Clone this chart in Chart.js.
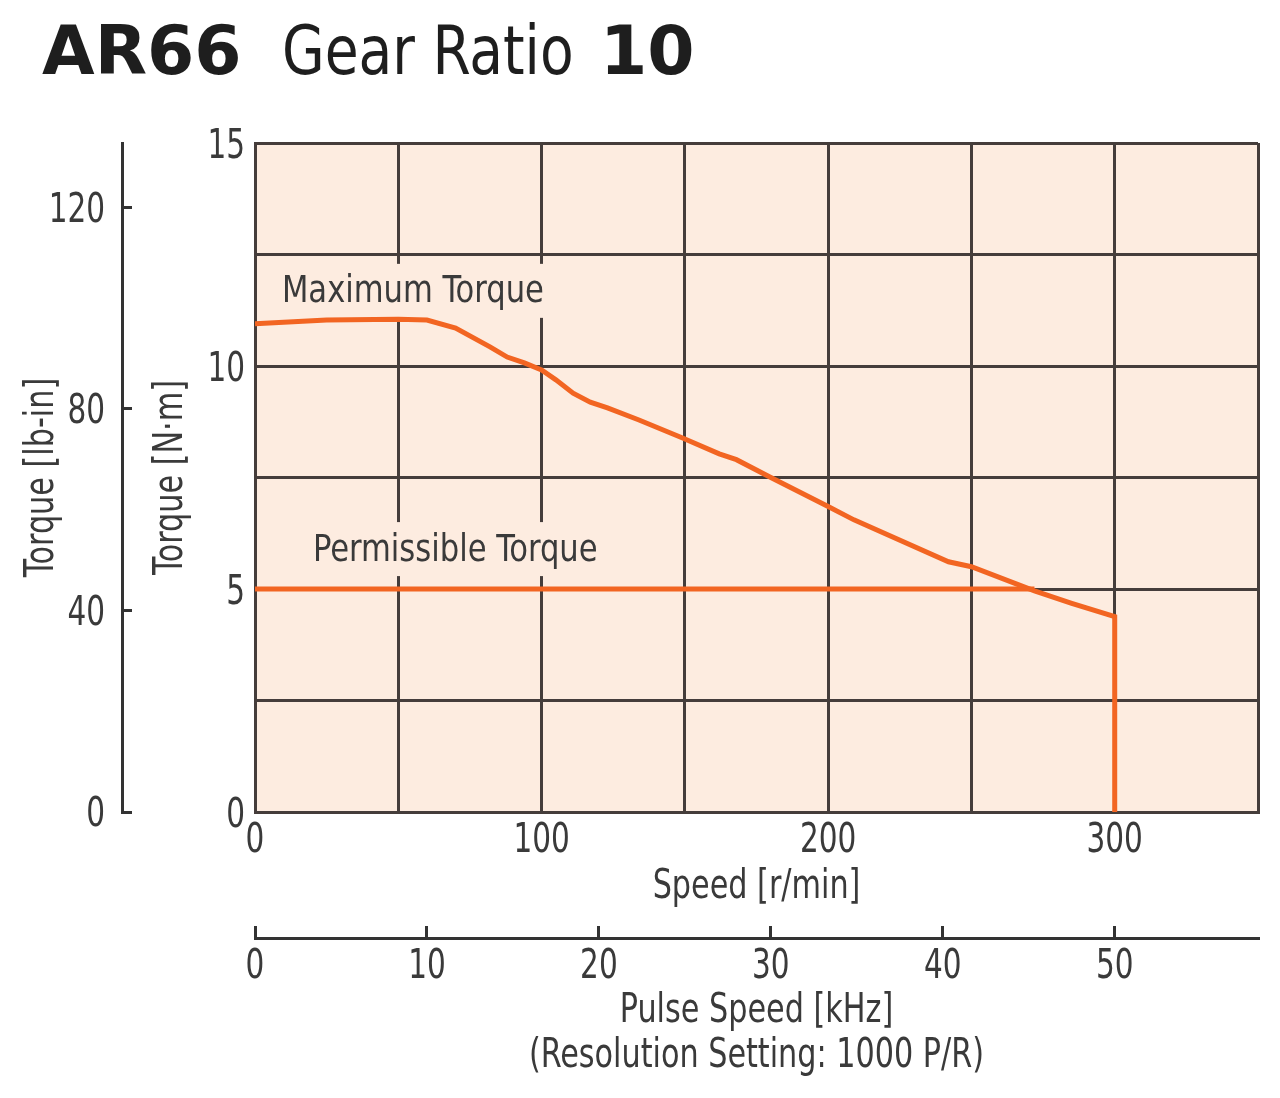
<!DOCTYPE html>
<html>
<head>
<meta charset="utf-8">
<script src="https://cdn.jsdelivr.net/npm/chart.js@4.4.1/dist/chart.umd.min.js"></script>
<style>
  body { margin: 0; background: #fff; }
  #wrap { position: relative; width: 1280px; height: 1098px; }
  #chart { position: absolute; left: 0; top: 0; }
  #title span { position: absolute; top: 6px; white-space: nowrap; color: #1e1e1e; line-height: 90px; }
  #title .b { font-family: 'DejaVu Sans', sans-serif; font-weight: bold; font-size: 68px; }
  #title .n { font-family: 'DejaVu Sans Condensed', 'DejaVu Sans', sans-serif; font-size: 68px;
              transform: scaleX(0.9); transform-origin: left center; }
</style>
</head>
<body>
<div id="wrap">
  <div id="title">
    <span class="b" style="left:42px">AR66</span>
    <span class="n" style="left:282px">Gear Ratio</span>
    <span class="b" style="left:600px">10</span>
  </div>
  <canvas id="chart" width="1280" height="1098"></canvas>
</div>
<script>
// values
const speedMax = [0, 25, 50, 60, 70, 82, 88, 94, 100, 105, 111, 117, 123, 134, 149, 162, 168, 180, 200, 209, 242, 250, 272, 285, 300, 300];
const torqueMax = [10.95, 11.03, 11.05, 11.03, 10.85, 10.43, 10.2, 10.07, 9.91, 9.69, 9.39, 9.19, 9.06, 8.79, 8.39, 8.03, 7.9, 7.5, 6.85, 6.55, 5.61, 5.5, 4.96, 4.68, 4.38, 0];
const speedPerm = [0, 272];
const torquePerm = [5, 5];

const speedRange = [0, 350];     // r/min
const torqueRange = [0, 15];     // N·m
const lbinPerNm = 8.8507;
const kHzPerRpm = 1 / 6;         // gear ratio 10, 1000 P/R

const curveLabels = [
  { text: 'Maximum Torque', speed: 9.4, torque: 11.64 },
  { text: 'Permissible Torque', speed: 20.2, torque: 5.85 }
];

const FONT = "'DejaVu Sans Condensed', 'DejaVu Sans', sans-serif";
const TXT = '#3a3a3a';
const GRID = '#453d3b';
const ORANGE = '#f26522';
const PEACH = '#fdece0';

const toXY = (xs, ys) => xs.map((x, i) => ({ x: x, y: ys[i] }));

// narrow all canvas text so it looks like the condensed face of the original
const squeeze = {
  id: 'squeeze',
  beforeDraw(chart) {
    const ctx = chart.ctx;
    if (ctx._origFillText) return;
    const orig = ctx.fillText.bind(ctx);
    ctx._origFillText = orig;
    ctx.textSqueeze = 0.82;
    ctx.fillText = function (text, x, y) {
      this.save();
      this.translate(x, y);
      this.scale(this.textSqueeze, 1);
      orig(text, 0, 0);
      this.restore();
    };
  }
};

const plotBg = {
  id: 'plotBg',
  beforeDraw(chart) {
    const { ctx, chartArea: a } = chart;
    ctx.save();
    ctx.fillStyle = PEACH;
    ctx.fillRect(a.left, a.top, a.right - a.left, a.bottom - a.top);
    ctx.restore();
  }
};

// curve names sit on a peach box that hides the grid behind them
const curveText = {
  id: 'curveText',
  beforeDatasetsDraw(chart) {
    const { ctx, scales } = chart;
    ctx.save();
    ctx.font = '37px ' + FONT;
    ctx.fillStyle = PEACH;
    curveLabels.forEach(l => {
      const x = scales.x.getPixelForValue(l.speed);
      const y = scales.y.getPixelForValue(l.torque);
      const w = ctx.measureText(l.text).width * 0.92;
      ctx.fillRect(x - 8, y - 29, w + 16, 54);
    });
    ctx.restore();
  },
  afterDatasetsDraw(chart) {
    const { ctx, scales } = chart;
    ctx.save();
    ctx.textSqueeze = 0.92;
    ctx.font = '37px ' + FONT;
    ctx.fillStyle = TXT;
    ctx.textAlign = 'left';
    ctx.textBaseline = 'middle';
    curveLabels.forEach(l => {
      ctx.fillText(l.text, scales.x.getPixelForValue(l.speed), scales.y.getPixelForValue(l.torque));
    });
    ctx.textSqueeze = 0.82;
    ctx.restore();
  }
};

new Chart(document.getElementById('chart'), {
  type: 'line',
  data: {
    datasets: [
      {
        label: 'Maximum Torque',
        data: toXY(speedMax, torqueMax),
        borderColor: ORANGE,
        borderWidth: 5,
        pointRadius: 0,
        tension: 0,
        fill: false
      },
      {
        label: 'Permissible Torque',
        data: toXY(speedPerm, torquePerm),
        borderColor: ORANGE,
        borderWidth: 5,
        pointRadius: 0,
        fill: false
      }
    ]
  },
  options: {
    responsive: false,
    animation: false,
    layout: { padding: { top: 143, right: 22, left: 0, bottom: 0 } },
    plugins: { legend: { display: false }, tooltip: { enabled: false } },
    scales: {
      x: {
        type: 'linear',
        position: 'bottom',
        weight: 0,
        min: speedRange[0],
        max: speedRange[1],
        afterFit: s => { s.height = 126; },
        grid: { color: GRID, lineWidth: 3, drawTicks: false },
        border: { color: GRID, width: 3 },
        ticks: {
          stepSize: 50,
          padding: 6,
          color: TXT,
          font: { family: FONT, size: 40 },
          maxRotation: 0,
          callback: v => (v % 100 === 0 ? v : '')
        },
        title: { display: true, text: 'Speed [r/min]', color: TXT, font: { family: FONT, size: 41 }, padding: { top: 0, bottom: 26 } }
      },
      x2: {
        type: 'linear',
        position: 'bottom',
        weight: 1,
        min: speedRange[0] * kHzPerRpm,
        max: speedRange[1] * kHzPerRpm,
        afterFit: s => { s.height = 160; },
        grid: { drawOnChartArea: false, drawTicks: true, tickLength: -12, color: '#333', lineWidth: 3 },
        border: { color: '#333', width: 3 },
        ticks: {
          stepSize: 10,
          includeBounds: false,
          padding: 18,
          color: TXT,
          font: { family: FONT, size: 40 },
          maxRotation: 0
        },
        title: {
          display: true,
          text: ['Pulse Speed [kHz]', '(Resolution Setting: 1000 P/R)'],
          color: TXT,
          font: { family: FONT, size: 41, lineHeight: 1.1 },
          padding: { top: 0, bottom: 19 }
        }
      },
      y: {
        type: 'linear',
        position: 'left',
        weight: 0,
        min: torqueRange[0],
        max: torqueRange[1],
        afterFit: s => { s.width = 133; },
        grid: { color: GRID, lineWidth: 3, drawTicks: false },
        border: { color: GRID, width: 3 },
        ticks: {
          stepSize: 2.5,
          padding: 10,
          labelOffset: 5,
          color: TXT,
          font: { family: FONT, size: 40 },
          callback: v => (v % 5 === 0 ? v : '')
        },
        title: { display: true, text: 'Torque [N·m]', color: TXT, font: { family: FONT, size: 41 }, padding: { top: 25, bottom: 0 } }
      },
      y2: {
        type: 'linear',
        position: 'left',
        weight: 1,
        min: torqueRange[0] * lbinPerNm,
        max: torqueRange[1] * lbinPerNm,
        afterFit: s => { s.width = 122; },
        grid: { drawOnChartArea: false, drawTicks: true, tickLength: -10, color: '#333', lineWidth: 3 },
        border: { color: '#333', width: 3 },
        ticks: {
          stepSize: 40,
          includeBounds: false,
          padding: 27,
          labelOffset: 4,
          color: TXT,
          font: { family: FONT, size: 40 }
        },
        title: { display: true, text: 'Torque [lb-in]', color: TXT, font: { family: FONT, size: 41 }, padding: { top: 18, bottom: 0 } }
      }
    }
  },
  plugins: [squeeze, plotBg, curveText]
});
</script>
</body>
</html>
